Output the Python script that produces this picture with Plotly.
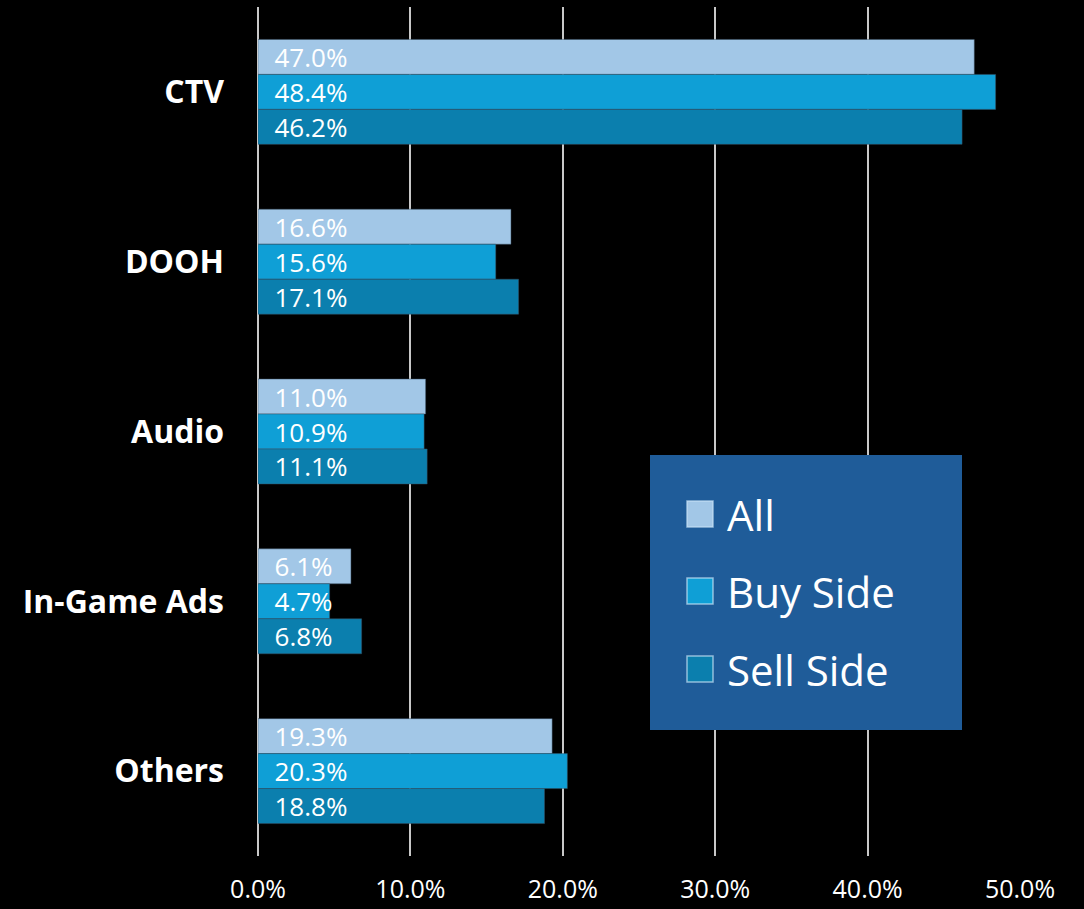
import plotly.graph_objects as go

# Share of respondents by ad channel, split by market side
categories = ["CTV", "DOOH", "Audio", "In-Game Ads", "Others"]
series_names = ["All", "Buy Side", "Sell Side"]
all_values = [47.0, 16.6, 11.0, 6.1, 19.3]
buy_side_values = [48.4, 15.6, 10.9, 4.7, 20.3]
sell_side_values = [46.2, 17.1, 11.1, 6.8, 18.8]
x_tick_values = [0, 10, 20, 30, 40, 50]
x_tick_labels = ["0.0%", "10.0%", "20.0%", "30.0%", "40.0%", "50.0%"]

series_values = [all_values, buy_side_values, sell_side_values]
series_colors = ["#a2c7e7", "#0f9fd6", "#0b7fae"]
legend_bg = "#1f5c99"
grid_color = "#c8c8c8"
font_family = "Open Sans, Noto Sans, sans-serif"

W, H = 1084, 909
M_LEFT, M_RIGHT, M_TOP, M_BOTTOM = 258, 64, 7, 53
PLOT_W = W - M_LEFT - M_RIGHT
PLOT_H = H - M_TOP - M_BOTTOM


def px_x(px):
    """Pixel x on the page to paper coordinate."""
    return (px - M_LEFT) / PLOT_W


def px_y(py):
    """Pixel y on the page to paper coordinate."""
    return (H - M_BOTTOM - py) / PLOT_H


fig = go.Figure()

for name, vals, color in zip(series_names, series_values, series_colors):
    fig.add_trace(go.Bar(
        name=name,
        y=categories,
        x=vals,
        orientation="h",
        marker=dict(color=color, line=dict(color="rgba(60,80,100,0.6)", width=0.8)),
        text=[f"{v:.1f}%" for v in vals],
        texttemplate="\u00a0\u00a0%{text}",
        textposition="inside",
        insidetextanchor="start",
        constraintext="none",
        textangle=0,
        insidetextfont=dict(color="white", size=26, family=font_family),
        showlegend=False,
        hoverinfo="skip",
    ))

# Legend panel drawn as shapes and text
shapes = [dict(
    type="rect", xref="paper", yref="paper",
    x0=px_x(650), x1=px_x(962), y0=px_y(730), y1=px_y(455),
    fillcolor=legend_bg, line=dict(width=0), layer="above",
)]
annotations = []
legend_rows_py = [514, 591, 669]
for name, color, cy in zip(series_names, series_colors, legend_rows_py):
    shapes.append(dict(
        type="rect", xref="paper", yref="paper",
        x0=px_x(687), x1=px_x(713), y0=px_y(cy + 13), y1=px_y(cy - 13),
        fillcolor=color, line=dict(color="rgba(200,225,245,0.7)", width=1.5),
        layer="above",
    ))
    annotations.append(dict(
        text=name, xref="paper", yref="paper",
        x=px_x(725), y=px_y(cy), xanchor="left", yanchor="middle",
        showarrow=False, font=dict(color="white", size=42, family=font_family),
    ))

fig.update_layout(
    width=W, height=H,
    margin=dict(l=M_LEFT, r=M_RIGHT, t=M_TOP, b=M_BOTTOM, pad=0, autoexpand=False),
    paper_bgcolor="black",
    plot_bgcolor="black",
    barmode="group",
    bargap=0.382,
    bargroupgap=0,
    shapes=shapes,
    annotations=annotations,
    showlegend=False,
    font=dict(family=font_family, color="white"),
)

fig.update_xaxes(
    range=[0, 50],
    tickvals=x_tick_values,
    ticktext=x_tick_labels,
    showgrid=True,
    gridcolor=grid_color,
    gridwidth=2,
    zeroline=True,
    zerolinecolor=grid_color,
    zerolinewidth=2,
    showline=False,
    ticks="",
    automargin=False,
    ticklabelstandoff=16,
    tickfont=dict(size=25, color="white", family=font_family),
)

fig.update_yaxes(
    autorange="reversed",
    showgrid=False,
    zeroline=False,
    showline=False,
    ticks="",
    automargin=False,
    ticklabelstandoff=33,
    tickfont=dict(size=32, color="white", family=font_family),
    tickprefix="<b>",
    ticksuffix="</b>",
)

fig.write_html("out.html")
